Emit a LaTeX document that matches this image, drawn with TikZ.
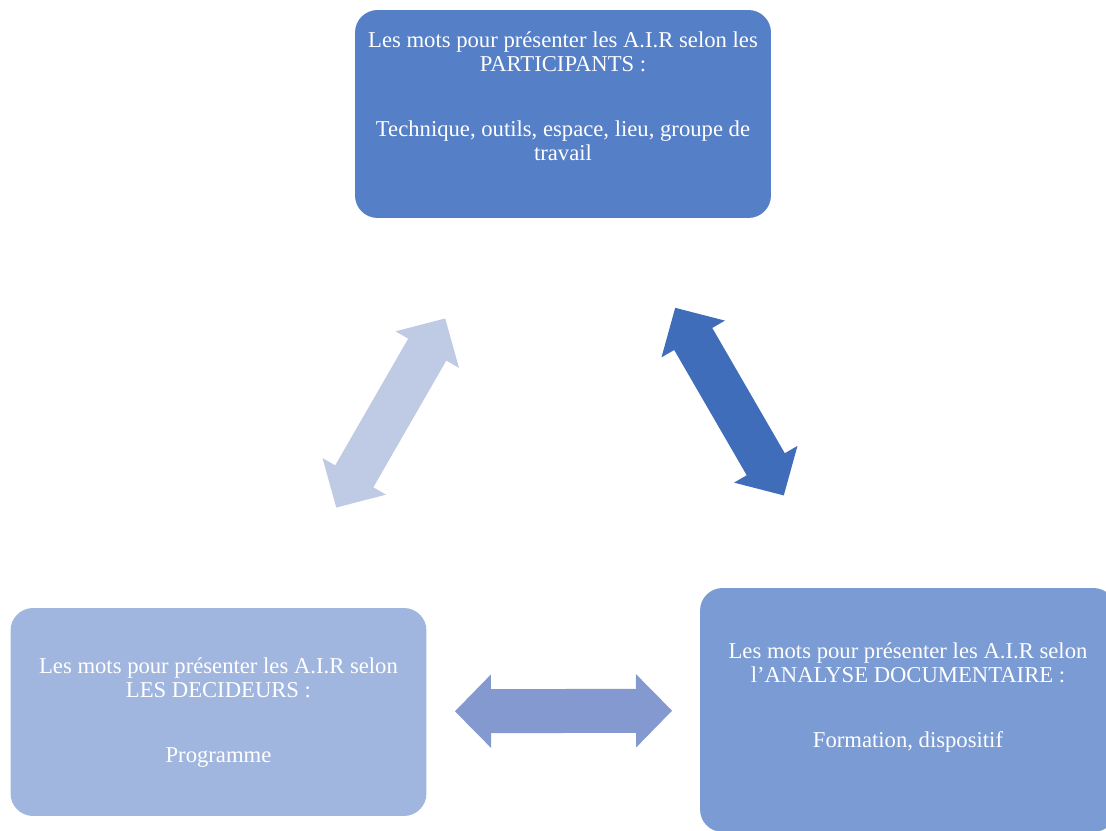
\documentclass[tikz,border=0pt]{standalone}
\usepackage{fontspec}
\setmainfont{Liberation Serif}
\usetikzlibrary{arrows.meta, positioning}
\usepackage{xcolor}
\definecolor{TopFill}{HTML}{557FC6}
\definecolor{LeftFill}{HTML}{A1B6DF}
\definecolor{RightFill}{HTML}{7A9BD3}
\definecolor{ArrowPale}{HTML}{BFCAE5}
\definecolor{ArrowDeep}{HTML}{3F6DBA}
\definecolor{ArrowMid}{HTML}{8399CF}

\begin{document}
\begin{tikzpicture}[x=0.02cm, y=-0.02cm,
            box/.style={rectangle, rounded corners=0.45cm, minimum width=8.32cm, minimum height=4.16cm, inner sep=0pt},
            txt/.style={align=center, text=white, inner sep=0pt, font=\fontsize{12.9pt}{13.4pt}\selectfont},
            biarrow/.style={{Triangle[length=0.72cm, width=1.46cm, line width=1pt]}-{Triangle[length=0.72cm, width=1.46cm, line width=1pt]}, line width=0.88cm}
        ]
            \useasboundingbox (0,0) rectangle (1106,831);

            % Boxes
            \node[box, fill=TopFill] (part) at (563,114) {};
            \node[box, fill=LeftFill] (dec) at (218.5,712) {};
            \node[box, fill=RightFill, minimum height=4.88cm] (doc) at (908,710) {};

            % Texts
            \node[txt, below=0.44cm of part.north] (parttxt) {Les mots pour présenter les A.I.R selon les\\PARTICIPANTS :\\[23.9pt]Technique, outils, espace, lieu, groupe de\\travail};
            \node[txt, below=1.0cm of dec.north] (dectxt) {Les mots pour présenter les A.I.R selon\\LES DECIDEURS :\\[23.9pt]Programme};
            \node[txt, below=1.1cm of doc.north] (doctxt) {Les mots pour présenter les A.I.R selon\\l’ANALYSE DOCUMENTAIRE :\\[23.9pt]Formation, dispositif};

            % Double arrows between boxes
            \draw[biarrow, color=ArrowPale, shorten <=4.72cm, shorten >=4.72cm] (dec.center) -- (part.center);
            \draw[biarrow, color=ArrowDeep, shorten <=4.48cm, shorten >=4.96cm] (part.center) -- (doc.center);
            \draw[biarrow, color=ArrowMid, shorten <=4.73cm, shorten >=4.72cm] (dec.center) -- (doc.center);
        \end{tikzpicture}
\end{document}
